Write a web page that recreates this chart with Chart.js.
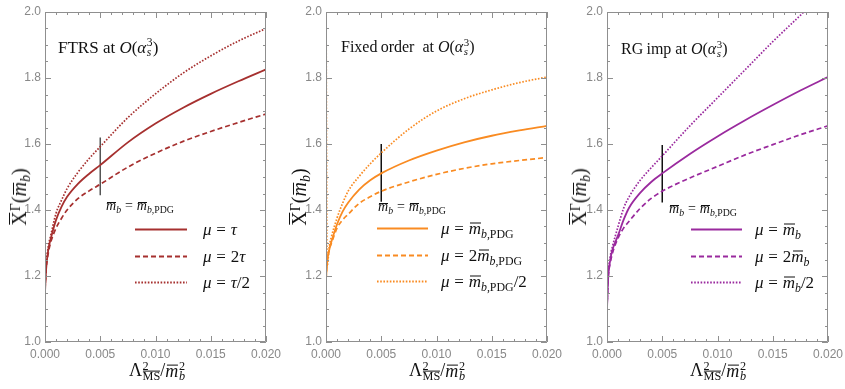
<!DOCTYPE html>
<html>
<head>
<meta charset="utf-8">
<script src="https://cdn.jsdelivr.net/npm/chart.js@4.4.0/dist/chart.umd.min.js"></script>
<style>
  html, body { margin:0; padding:0; background:#fff; }
  #wrap { position:relative; width:845px; height:389px; overflow:hidden; }
  canvas { position:absolute; top:0; }
  .t { position:absolute; font-family:"Liberation Serif", "DejaVu Serif", serif; color:#111; white-space:nowrap; line-height:1; transform:translateY(-50%); }
  .t i { font-style:italic; }
  .sub { font-size:0.7em; position:relative; top:0.3em; }
  .sup { font-size:0.7em; position:relative; top:-0.45em; }
  .ss { display:inline-flex; flex-direction:column; font-size:0.68em; line-height:0.85; vertical-align:0.56em; margin-left:0.05em; }
  .ob { position:relative; display:inline-block; }
  .ob::after { content:''; position:absolute; left:0.08em; right:0.02em; top:0.2em; border-top:0.06em solid currentColor; }
  .obc { position:relative; display:inline-block; }
  .obc::after { content:''; position:absolute; left:0.05em; right:0.05em; top:-0.02em; border-top:0.06em solid currentColor; }
  .eq { margin:0 0.28em; font-style:normal; }
  .ylab { position:absolute; font-family:"Liberation Serif", serif; font-size:20px; color:#111; white-space:nowrap; line-height:1; transform:translate(-50%,-50%) rotate(-90deg); }
  .xlab { position:absolute; font-family:"Liberation Serif", serif; font-size:18px; color:#111; white-space:nowrap; line-height:1; transform:translate(-50%,-50%); }
</style>
</head>
<body>
<div id="wrap">
  <canvas id="c0" width="281" height="389" style="left:0px"></canvas>
  <canvas id="c1" width="281" height="389" style="left:281px"></canvas>
  <canvas id="c2" width="281" height="389" style="left:562px"></canvas>

  <!-- Panel titles -->
  <div class="t" style="left:58px;top:48px;font-size:17px">FTRS at <i>O</i>(<i>α</i><span class="ss"><span>3</span><span><i>s</i></span></span>)</div>
  <div class="t" style="left:341px;top:47px;font-size:16px">Fixed&#8201;order&nbsp; at <i>O</i>(<i>α</i><span class="ss"><span>3</span><span><i>s</i></span></span>)</div>
  <div class="t" style="left:621px;top:49px;font-size:16px">RG&#8201;imp at <i>O</i>(<i>α</i><span class="ss"><span>3</span><span><i>s</i></span></span>)</div>

  <!-- PDG annotations -->
  <div class="t" style="left:106px;top:206px;font-size:14px"><span class="ob"><i>m</i></span><span class="sub"><i>b</i></span><span class="eq">=</span><span class="ob"><i>m</i></span><span class="sub"><i>b</i>,PDG</span></div>
  <div class="t" style="left:378px;top:207px;font-size:14px"><span class="ob"><i>m</i></span><span class="sub"><i>b</i></span><span class="eq">=</span><span class="ob"><i>m</i></span><span class="sub"><i>b</i>,PDG</span></div>
  <div class="t" style="left:669px;top:209px;font-size:14px"><span class="ob"><i>m</i></span><span class="sub"><i>b</i></span><span class="eq">=</span><span class="ob"><i>m</i></span><span class="sub"><i>b</i>,PDG</span></div>

  <!-- Legend texts panel 1 -->
  <div class="t" style="left:203px;top:229px;font-size:17px"><i>μ</i><span class="eq">=</span><i>τ</i></div>
  <div class="t" style="left:203px;top:256px;font-size:17px"><i>μ</i><span class="eq">=</span>2<i>τ</i></div>
  <div class="t" style="left:203px;top:282px;font-size:17px"><i>μ</i><span class="eq">=</span><i>τ</i>/2</div>
  <!-- Legend texts panel 2 -->
  <div class="t" style="left:441px;top:228px;font-size:17px"><i>μ</i><span class="eq">=</span><span class="ob"><i>m</i></span><span class="sub"><i>b</i>,PDG</span></div>
  <div class="t" style="left:441px;top:255px;font-size:17px"><i>μ</i><span class="eq">=</span>2<span class="ob"><i>m</i></span><span class="sub"><i>b</i>,PDG</span></div>
  <div class="t" style="left:441px;top:281px;font-size:17px"><i>μ</i><span class="eq">=</span><span class="ob"><i>m</i></span><span class="sub"><i>b</i>,PDG</span>/2</div>
  <!-- Legend texts panel 3 -->
  <div class="t" style="left:755px;top:229px;font-size:17px"><i>μ</i><span class="eq">=</span><span class="ob"><i>m</i></span><span class="sub"><i>b</i></span></div>
  <div class="t" style="left:755px;top:256px;font-size:17px"><i>μ</i><span class="eq">=</span>2<span class="ob"><i>m</i></span><span class="sub"><i>b</i></span></div>
  <div class="t" style="left:755px;top:282px;font-size:17px"><i>μ</i><span class="eq">=</span><span class="ob"><i>m</i></span><span class="sub"><i>b</i></span>/2</div>

  <!-- Y axis labels -->
  <div class="ylab" style="left:19px;top:197px"><span class="obc">X</span><span class="sup">Γ</span>(<span class="ob"><i>m</i></span><span class="sub"><i>b</i></span>)</div>
  <div class="ylab" style="left:299px;top:197px"><span class="obc">X</span><span class="sup">Γ</span>(<span class="ob"><i>m</i></span><span class="sub"><i>b</i></span>)</div>
  <div class="ylab" style="left:579px;top:197px"><span class="obc">X</span><span class="sup">Γ</span>(<span class="ob"><i>m</i></span><span class="sub"><i>b</i></span>)</div>

  <!-- X axis labels -->
  <div class="xlab" style="left:157px;top:371px">Λ<span class="ss"><span>2</span><span><span class="obc">MS</span></span></span>/<span class="ob"><i>m</i></span><span class="ss"><span>2</span><span><i>b</i></span></span></div>
  <div class="xlab" style="left:437px;top:371px">Λ<span class="ss"><span>2</span><span><span class="obc">MS</span></span></span>/<span class="ob"><i>m</i></span><span class="ss"><span>2</span><span><i>b</i></span></span></div>
  <div class="xlab" style="left:718px;top:371px">Λ<span class="ss"><span>2</span><span><span class="obc">MS</span></span></span>/<span class="ob"><i>m</i></span><span class="ss"><span>2</span><span><i>b</i></span></span></div>
</div>

<script>
// ---------------- DATA ----------------
const xValues = [0, 0.0001, 0.0003, 0.0005, 0.001, 0.0015, 0.002, 0.003, 0.004, 0.005, 0.0075, 0.01, 0.0125, 0.015, 0.0175, 0.02];

// Panel 1: FTRS at O(alpha_s^3)
const ftrsTau     = [1.15, 1.22, 1.28, 1.31, 1.37, 1.41, 1.44, 1.48, 1.51, 1.536, 1.605, 1.662, 1.71, 1.752, 1.79, 1.826];
const ftrs2Tau    = [1.16, 1.22, 1.27, 1.30, 1.345, 1.375, 1.40, 1.435, 1.458, 1.478, 1.53, 1.572, 1.608, 1.638, 1.665, 1.691];
const ftrsHalfTau = [1.16, 1.23, 1.29, 1.32, 1.39, 1.43, 1.465, 1.515, 1.556, 1.592, 1.68, 1.752, 1.815, 1.867, 1.912, 1.95];

// Panel 2: Fixed order at O(alpha_s^3)
const foMb     = [1.19, 1.24, 1.28, 1.305, 1.357, 1.395, 1.422, 1.462, 1.49, 1.511, 1.55, 1.58, 1.605, 1.625, 1.641, 1.655];
const fo2Mb    = [1.19, 1.24, 1.28, 1.30, 1.345, 1.37, 1.387, 1.42, 1.44, 1.457, 1.485, 1.508, 1.526, 1.54, 1.55, 1.559];
const foHalfMb = [2.05, 1.23, 1.29, 1.32, 1.376, 1.42, 1.457, 1.502, 1.54, 1.573, 1.645, 1.70, 1.737, 1.764, 1.786, 1.803];

// Panel 3: RG imp at O(alpha_s^3)
const rgMb     = [1.10, 1.19, 1.25, 1.28, 1.323, 1.37, 1.407, 1.452, 1.485, 1.511, 1.57, 1.623, 1.672, 1.718, 1.762, 1.803];
const rg2Mb    = [1.10, 1.19, 1.24, 1.27, 1.315, 1.345, 1.366, 1.405, 1.435, 1.457, 1.497, 1.532, 1.567, 1.598, 1.628, 1.655];
const rgHalfMb = [1.10, 1.20, 1.26, 1.29, 1.35, 1.405, 1.44, 1.49, 1.528, 1.564, 1.655, 1.74, 1.825, 1.91, 1.99, 2.07];

// Vertical marker at mb = mb,PDG
const markerX = 0.005;
const markerRanges = [[1.445, 1.62], [1.425, 1.60], [1.423, 1.597]];

// Axis ranges / ticks
const xMin = 0, xMax = 0.02, xStep = 0.005, xMinor = 0.001;
const yMin = 1.0, yMax = 2.0, yStep = 0.2, yMinor = 0.05;

// ---------------- STYLE ----------------
const panels = [
  { id:'c0', color:'#a6302f', marker:'#555555', series:[ftrsTau, ftrs2Tau, ftrsHalfTau], range:markerRanges[0], legendX:[135,187], legendY:[229,256,282] },
  { id:'c1', color:'#f98b22', marker:'#111111', series:[foMb, fo2Mb, foHalfMb], range:markerRanges[1], legendX:[96,147], legendY:[228,255,281] },
  { id:'c2', color:'#9a2a9e', marker:'#111111', series:[rgMb, rg2Mb, rgHalfMb], range:markerRanges[2], legendX:[129,180], legendY:[229,256,282] }
];
const dashes = [[], [5, 3], [1.6, 1.6]];

const toXY = (ys) => ys.map((v, i) => ({ x: xValues[i], y: v }));

const framePlugin = {
  id: 'frame',
  afterDraw(chart, args, opts) {
    const { ctx, chartArea: a, scales: { x, y } } = chart;
    ctx.save();
    ctx.strokeStyle = '#8f8f8f';
    ctx.lineWidth = 1;
    ctx.setLineDash([]);
    ctx.beginPath();
    ctx.rect(Math.round(a.left) + 0.5, Math.round(a.top) + 0.5, Math.round(a.right - a.left) - 1, Math.round(a.bottom - a.top) - 1);
    ctx.stroke();
    ctx.beginPath();
    const nx = Math.round((xMax - xMin) / xMinor);
    for (let i = 0; i <= nx; i++) {
      const px = Math.round(x.getPixelForValue(xMin + i * xMinor)) + 0.5;
      const L = (i % 5 === 0) ? 6 : 3;
      ctx.moveTo(px, a.bottom); ctx.lineTo(px, a.bottom - L);
      ctx.moveTo(px, a.top); ctx.lineTo(px, a.top + L);
    }
    const ny = Math.round((yMax - yMin) / yMinor);
    for (let i = 0; i <= ny; i++) {
      const py = Math.round(y.getPixelForValue(yMin + i * yMinor)) + 0.5;
      const L = (i % 4 === 0) ? 6 : 3;
      ctx.moveTo(a.left, py); ctx.lineTo(a.left + L, py);
      ctx.moveTo(a.right, py); ctx.lineTo(a.right - L, py);
    }
    ctx.stroke();
    // legend samples
    const lg = opts.legend;
    if (lg) {
      ctx.strokeStyle = lg.color;
      ctx.lineWidth = 2.2;
      lg.ys.forEach((yy, k) => {
        ctx.setLineDash(dashes[k]);
        ctx.beginPath();
        ctx.moveTo(lg.xs[0], yy + 0.5);
        ctx.lineTo(lg.xs[1], yy + 0.5);
        ctx.stroke();
      });
    }
    ctx.restore();
  }
};

panels.forEach((p) => {
  const datasets = p.series.map((s, k) => ({
    data: toXY(s),
    borderColor: p.color,
    borderWidth: k === 0 ? 1.8 : 1.7,
    borderDash: dashes[k],
    pointRadius: 0,
    fill: false,
    cubicInterpolationMode: 'monotone'
  }));
  datasets.push({
    data: [{ x: markerX, y: p.range[0] }, { x: markerX, y: p.range[1] }],
    borderColor: p.marker,
    borderWidth: 1.5,
    pointRadius: 0,
    fill: false
  });
  new Chart(document.getElementById(p.id), {
    type: 'line',
    data: { datasets },
    plugins: [framePlugin],
    options: {
      responsive: false,
      animation: false,
      devicePixelRatio: 1,
      layout: { padding: { top: 12, right: 15, left: 0, bottom: 0 } },
      plugins: {
        legend: { display: false },
        tooltip: { enabled: false },
        frame: { legend: { color: p.color, xs: p.legendX, ys: p.legendY } }
      },
      scales: {
        x: {
          type: 'linear', min: xMin, max: xMax,
          grid: { display: false, drawTicks: false },
          border: { display: false },
          ticks: { stepSize: xStep, padding: 5, color: '#888', font: { family: 'Liberation Sans', size: 12 },
                   callback: (v) => v.toFixed(3), maxRotation: 0 },
          afterFit: (s) => { s.height = 47; s.paddingLeft = 0; s.paddingRight = 0; }
        },
        y: {
          type: 'linear', min: yMin, max: yMax,
          grid: { display: false, drawTicks: false },
          border: { display: false },
          ticks: { stepSize: yStep, padding: 4, color: '#888', font: { family: 'Liberation Sans', size: 12 },
                   callback: (v) => v.toFixed(1) },
          afterFit: (s) => { s.width = 45; s.paddingTop = 0; s.paddingBottom = 0; }
        }
      }
    }
  });
});
</script>
</body>
</html>
